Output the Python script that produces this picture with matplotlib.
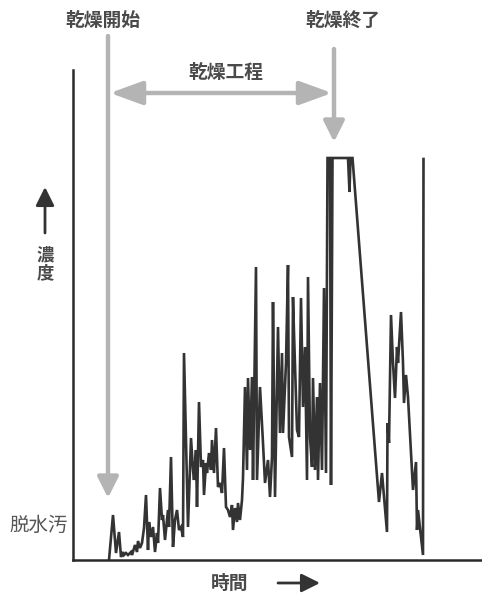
import matplotlib
matplotlib.use("Agg")
import matplotlib.pyplot as plt

plt.rcParams['font.family'] = ['Noto Sans CJK JP', 'DejaVu Sans']

# time (arbitrary units) and concentration (arbitrary units)
time = [36, 40, 43, 46, 48, 50, 51, 53, 55, 58, 59, 62, 64, 65, 67, 69, 71,
        73, 75, 76, 78, 80, 82, 84, 85, 87, 89, 90, 92, 95, 96, 98, 100, 102,
        104, 106, 108, 110, 111, 115, 118, 120, 121, 123, 124, 126, 128, 130,
        131, 133, 134, 136, 138, 139, 141, 143, 145, 147, 149, 151, 153, 155,
        157, 159, 160, 162, 164, 165, 167, 169, 170, 172, 174, 175, 177, 179,
        180, 183, 184, 187, 190, 192, 195, 197, 199, 200, 202, 205, 207, 209,
        210, 213, 215, 216, 219, 220, 221, 224, 226, 228, 230, 232, 234, 235,
        237, 239, 240, 242, 244, 245, 247, 249, 251, 253, 254.5, 257, 258,
        259.5, 275, 276.5, 277.5, 279.5, 306, 309, 314, 314.5, 316, 318, 320,
        322, 324, 325, 328, 330, 331, 333, 335, 340, 343, 344, 345, 350, 350.5]
conc = [0, 45, 7, 28, 3, 8, 5, 7, 5, 8, 5, 15, 8, 19, 12, 17, 32,
        65, 10, 38, 23, 33, 8, 27, 17, 72, 40, 45, 20, 50, 33, 103, 13, 40,
        50, 30, 33, 23, 207, 33, 122, 90, 80, 110, 53, 158, 93, 100,
        65, 97, 87, 107, 90, 120, 87, 132, 73, 77, 67, 112, 53, 50,
        43, 55, 30, 52, 38, 57, 40, 60, 82, 173, 90, 182, 110, 183,
        80, 293, 80, 173, 117, 77, 100, 63, 103, 258, 63, 233, 127, 207,
        127, 197, 295, 123, 103, 263, 227, 130, 123, 262, 153, 213, 80, 283,
        123, 93, 182, 90, 163, 80, 177, 90, 272, 87, 402, 402, 75,
        402, 402, 368, 402, 402, 58, 87, 28, 137, 117, 245, 197,
        162, 213, 197, 248, 197, 157, 185, 163, 70, 98, 30, 50, 5, 401]

drying_start = 35
drying_end = 261

W, H = 482, 593
fig = plt.figure(figsize=(W / 100, H / 100), dpi=100)
ax = fig.add_axes([73 / W, (H - 560) / H, (W - 73) / W, 490 / H])

ax.plot(time, conc, color='#333333', lw=1.9, solid_joinstyle='miter')
ax.set_xlim(0, W - 73)
ax.set_ylim(0, 490)
ax.set_xticks([])
ax.set_yticks([])
for s in ['top', 'right']:
    ax.spines[s].set_visible(False)
for s in ['left', 'bottom']:
    ax.spines[s].set_color('#2a2a2a')
    ax.spines[s].set_linewidth(1.8)

gray = '#b4b4b4'
head = '-|>,head_length=0.7,head_width=0.35'
ax.annotate('', xy=(drying_start, 62), xytext=(drying_start, 524),
            arrowprops=dict(arrowstyle=head, color=gray, lw=3.2,
                            mutation_scale=18, shrinkA=0, shrinkB=0),
            annotation_clip=False)
ax.annotate('', xy=(drying_end, 418), xytext=(drying_end, 511),
            arrowprops=dict(arrowstyle=head, color=gray, lw=3.2,
                            mutation_scale=18, shrinkA=0, shrinkB=0),
            annotation_clip=False)
ax.annotate('', xy=(drying_start + 2, 467), xytext=(drying_end - 2, 467),
            arrowprops=dict(arrowstyle='<|-|>,head_length=1.1,head_width=0.4',
                            color=gray, lw=3.2, mutation_scale=18,
                            shrinkA=0, shrinkB=0),
            annotation_clip=False)

# black axis-direction arrows
ax.annotate('', xy=(-28, 373), xytext=(-28, 327),
            arrowprops=dict(arrowstyle='-|>,head_length=0.8,head_width=0.4',
                            color='#333333', lw=2, mutation_scale=14,
                            shrinkA=0, shrinkB=0),
            annotation_clip=False)
ax.annotate('', xy=(247, -23), xytext=(205, -23),
            arrowprops=dict(arrowstyle='-|>,head_length=0.8,head_width=0.4',
                            color='#333333', lw=2, mutation_scale=14,
                            shrinkA=0, shrinkB=0),
            annotation_clip=False)

tc = '#4a4a4a'
fig.text(103 / W, 1 - 20 / H, '乾燥開始', ha='center', va='center',
         fontsize=13.5, color=tc, fontweight='bold')
fig.text(343 / W, 1 - 20 / H, '乾燥終了', ha='center', va='center',
         fontsize=13.5, color=tc, fontweight='bold')
fig.text(226 / W, 1 - 72 / H, '乾燥工程', ha='center', va='center',
         fontsize=13.5, color=tc, fontweight='bold')
fig.text(45 / W, 1 - 264 / H, '濃\n度', ha='center', va='center',
         fontsize=12.5, color=tc, fontweight='bold', linespacing=1.0)
fig.text(39 / W, 1 - 525 / H, '脱水汚', ha='center', va='center',
         fontsize=14, color='#555555')
fig.text(230 / W, 1 - 583 / H, '時間', ha='center', va='center',
         fontsize=13.5, color=tc, fontweight='bold')

fig.savefig('out.png', dpi=100)
